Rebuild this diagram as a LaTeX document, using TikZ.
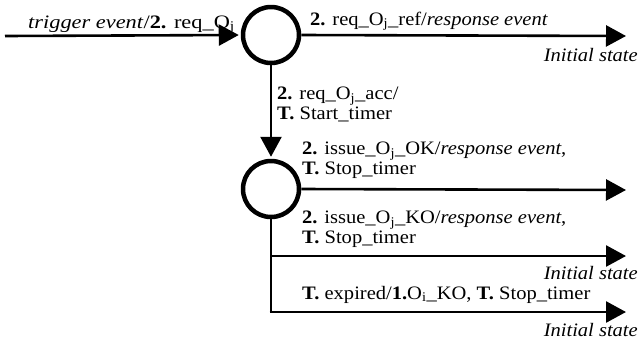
\documentclass[tikz,border=0pt]{standalone}
\usepackage{fontspec}
\setmainfont{Liberation Serif}[FakeStretch=1.08]
\usetikzlibrary{arrows.meta}
\tikzset{
  state/.style={circle,draw,line width=4.5pt,minimum size=56pt,inner sep=0pt},
  trans/.style={line width=2.6pt,-{Triangle[length=20pt,width=21pt]}},
  plain/.style={line width=2.6pt},
  lbl/.style={anchor=base west,inner sep=0pt,align=left,font=\fontsize{19}{18}\selectfont},
  ist/.style={anchor=base east,inner sep=0pt,font=\fontsize{19}{18}\selectfont\itshape}
}
\newcommand{\Oj}{O\textsubscript{j}}
\begin{document}
\begin{tikzpicture}[x=1pt,y=-1pt]
\useasboundingbox (0,0) rectangle (642,341);
\node[state] (c1) at (271,35) {};
\node[state] (c2) at (271,189) {};
\coordinate (s) at (5,36);
\coordinate (e1) at (626,36);
\coordinate (e2) at (626,190);
\coordinate (k1) at (271,256);
\coordinate (k2) at (271,312);
\coordinate (e3) at (626,256);
\coordinate (e4) at (626,312);
\draw[trans] (s) -- ([xshift=-2pt]c1.west);
\draw[trans] (c1.east) -- (e1);
\draw[trans] (c1.south) -- ([yshift=2pt]c2.north);
\draw[trans] (c2.east) -- (e2);
\draw[plain] (c2.south) -- (k2);
\draw[trans] (k1) -- (e3);
\draw[trans] ([xshift=-1.3pt]k2) -- (e4);
\node[lbl,xscale=1.09,transform shape] (l1) at (28,28) {\textit{trigger event}/\textbf{2.} req\_\Oj};
\node[lbl] (l2) at (310,25) {\textbf{2.} req\_\Oj\_ref/\textit{response event}};
\node[ist] (i1) at (638,61) {Initial state};
\node[lbl] (l3) at (277,119) {\textbf{2.} req\_\Oj\_acc/\\\textbf{T.} Start\_timer};
\node[lbl] (l4) at (302,174) {\textbf{2.} issue\_\Oj\_OK/\textit{response event},\\\textbf{T.} Stop\_timer};
\node[lbl] (l5) at (302,243) {\textbf{2.} issue\_\Oj\_KO/\textit{response event},\\\textbf{T.} Stop\_timer};
\node[ist] (i2) at (638,279) {Initial state};
\node[lbl] (l6) at (302,299) {\textbf{T.} expired/\textbf{1.}O\textsubscript{i}\_KO, \textbf{T.} Stop\_timer};
\node[ist] (i3) at (638,336) {Initial state};
\end{tikzpicture}
\end{document}
